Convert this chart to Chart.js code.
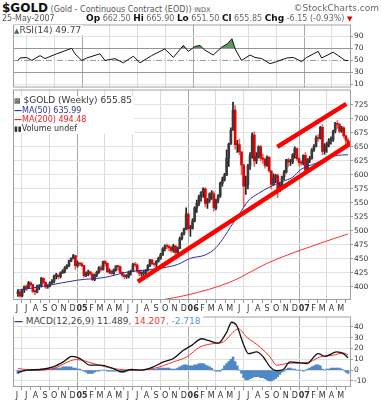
<!DOCTYPE html>
<html>
<head>
<meta charset="utf-8">
<title>$GOLD weekly</title>
<script src="https://cdn.jsdelivr.net/npm/chart.js@4.4.1/dist/chart.umd.min.js"></script>
<style>
  body { margin: 0; background: #fff; font-family: "DejaVu Sans", Verdana, sans-serif; }
  #page { position: relative; width: 382px; height: 400px; overflow: hidden; }
  .pane { position: absolute; left: 0; width: 382px; }
  .txt { position: absolute; white-space: nowrap; z-index: 2; }
  .lbl { background: #fff; padding-right: 2px; }
</style>
</head>
<body>
<div id="page">
  <div class="txt" style="left:2px;top:1px;font-size:8px;color:#555">
    <b style="font-size:12px;color:#111">$GOLD</b> (Gold - Continuous Contract (EOD)) <span style="font-size:6.5px">INDX</span>
  </div>
  <div class="txt" style="right:3px;top:3px;font-size:9px;color:#666">&copy;StockCharts.com</div>
  <div class="txt" style="left:2px;top:14px;font-size:8px;color:#555">25-May-2007</div>
  <div class="txt" style="left:86px;top:13px;font-size:8px;color:#666">
    <b style="font-size:9px;color:#111">Op</b> 662.50 <b style="font-size:9px;color:#111">Hi</b> 665.90 <b style="font-size:9px;color:#111">Lo</b> 651.50 <b style="font-size:9px;color:#111">Cl</b> 655.85 <b style="font-size:9px;color:#111">Chg</b> -6.15 (-0.93%) <span style="color:#d00;font-size:7px">&#9660;</span>
  </div>

  <div class="pane" style="top:19px;height:74px"><canvas id="rsiChart"></canvas></div>
  <div class="pane" style="top:84px;height:232px"><canvas id="priceChart"></canvas></div>
  <div class="pane" style="top:311px;height:89px"><canvas id="macdChart"></canvas></div>

  <div class="txt lbl" style="left:14px;top:25px;font-size:9px;color:#444"><span style="color:#3a7a3a;font-size:7px">&#9650;</span>RSI(14) 49.77</div>
  <div class="txt lbl" style="left:14px;top:96px;font-size:8px;line-height:9px;color:#333">
    <div style="font-size:9px"><span style="font-size:7px">&#9641;</span> $GOLD (Weekly) 655.85</div>
    <div style="color:#33339a"><b>&#8212;</b>MA(50) 635.99</div>
    <div style="color:#ee2222"><b>&#8212;</b>MA(200) 494.48</div>
    <div><span style="font-size:7px">&#9646;&#9646;</span>Volume undef</div>
  </div>
  <div class="txt lbl" style="left:14px;top:316px;font-size:9px;color:#444"><b>&#8212;</b> MACD(12,26,9) 11.489<span style="color:#e33">, 14.207</span><span style="color:#5a9ad0">, -2.718</span></div>
</div>

<script>
// weeks are counted from Fri 4-Jun-2004 (week 0) to Fri 25-May-2007 (week 155)
var weekStart = Date.UTC(2004, 5, 4);
var xMin = -2.3;
var xMax = 156.4;

var monthLabels = ['J', 'J', 'A', 'S', 'O', 'N', 'D', '05', 'F', 'M', 'A', 'M',
    'J', 'J', 'A', 'S', 'O', 'N', 'D', '06', 'F', 'M', 'A', 'M',
    'J', 'J', 'A', 'S', 'O', 'N', 'D', '07', 'F', 'M', 'A', 'M'];
var priceTicks = [400, 425, 450, 475, 500, 525, 550, 575, 600, 625, 650, 675, 700, 725];
var rsiTicks = [10, 30, 50, 70, 90];
var macdTicks = [-10, 0, 10, 20, 30, 40];

// weekly closes, highs, lows
var close = [391, 384, 395, 401, 397, 407, 404, 392, 391, 400, 401, 415, 408, 400, 402, 407, 410, 420, 420, 418, 425, 428, 434, 438, 446, 451, 456, 438, 442, 441, 438,
    420, 423, 427, 423, 413, 421, 426, 434, 431, 445, 442, 427, 428, 424, 430, 437, 436, 426, 421, 418, 418, 426, 427, 440, 439, 428, 424, 424, 425, 429, 438, 448, 441, 440, 446, 451, 457, 468, 473, 472, 470, 465, 473, 461, 469, 486, 495, 503, 530, 504, 505, 518,
    541, 549, 561, 569, 575, 549, 555, 566, 566, 541, 555, 562, 585, 591, 599, 630, 655, 680, 716, 654, 654, 641, 618, 580, 582, 616, 635, 671, 625, 633, 650, 630, 628, 617, 632, 607, 583, 595, 599, 575, 582, 597, 605, 627, 623, 623, 636, 647, 629, 622, 621, 635,
    608, 627, 629, 645, 651, 666, 665, 685, 642, 651, 655, 662, 663, 678, 692, 690, 678, 684, 670, 662, 656];
var high = [395, 393, 396, 402, 404, 410, 409, 405, 395, 403, 404, 417, 416, 409, 404, 409, 413, 421, 424, 423, 427, 431, 436, 440, 448, 452, 458, 456, 446, 443, 444,
    438, 427, 430, 428, 425, 423, 428, 436, 438, 446, 447, 443, 432, 430, 432, 438, 438, 437, 427, 423, 422, 428, 430, 442, 444, 441, 430, 427, 429, 431, 440, 449, 449, 443, 447, 453, 460, 470, 475, 477, 475, 473, 476, 474, 471, 489, 497, 505, 541, 532, 510, 522,
    543, 555, 564, 570, 577, 577, 558, 568, 572, 570, 557, 565, 587, 596, 603, 645, 657, 684, 730, 724, 662, 664, 642, 618, 598, 619, 640, 675, 677, 640, 652, 653, 637, 630, 634, 632, 608, 602, 601, 602, 587, 598, 608, 628, 630, 628, 638, 650, 648, 631, 625, 636,
    640, 629, 633, 647, 654, 670, 672, 687, 690, 656, 658, 665, 668, 680, 694, 697, 692, 687, 686, 671, 666];
var low = [383, 381, 382, 390, 393, 397, 401, 390, 386, 389, 395, 400, 405, 397, 397, 400, 405, 407, 414, 414, 416, 424, 425, 432, 436, 445, 450, 431, 435, 438, 436,
    417, 418, 420, 421, 411, 411, 418, 424, 428, 430, 437, 425, 424, 422, 422, 428, 430, 425, 418, 414, 415, 416, 421, 427, 436, 425, 420, 419, 419, 423, 428, 436, 440, 437, 434, 444, 449, 456, 464, 468, 464, 462, 462, 456, 459, 468, 484, 493, 502, 500, 490, 503,
    516, 533, 545, 553, 560, 543, 540, 551, 556, 535, 538, 550, 560, 580, 589, 599, 615, 655, 680, 646, 640, 636, 600, 543, 565, 575, 610, 630, 615, 620, 630, 625, 621, 612, 615, 605, 575, 581, 586, 560, 570, 580, 591, 603, 615, 617, 620, 630, 626, 616, 617, 618,
    603, 606, 622, 628, 642, 650, 660, 664, 636, 637, 640, 650, 655, 660, 675, 683, 675, 676, 666, 656, 651];
var firstOpen = 388;

var ma50Weeks = [0, 12, 28, 41, 52, 60, 68, 75, 81, 88, 93, 97, 100, 104, 108, 113, 118, 124, 129, 133, 140, 146, 150, 155];
var ma50Values = [394, 401, 412, 417, 427, 430, 434, 440, 451, 457, 470, 490, 508, 530, 553, 567, 578, 588, 596, 610, 621, 632, 635, 636];
var ma200Weeks = [60, 79, 100, 117, 133, 155];
var ma200Values = [372, 385, 409, 442, 466, 494.5];

var lowerTrendWeeks = [56.3, 157.3];
var lowerTrendValues = [409.5, 659];
var upperTrendWeeks = [121.8, 154.2];
var upperTrendValues = [650, 727];

var rsiWeeks = [0, 1, 4, 6.5, 10.4, 12.7, 18.2, 25.3, 26.8, 30, 32.3, 38.5, 40.9, 45.6, 49.5, 54.2, 57.3, 62.8, 69, 73, 77.7, 80, 83.1, 85.5, 87.4, 91.7, 95.7, 98.5, 100.5, 102, 105, 109, 111.3, 114.5, 118.4, 121.5, 126.2, 129.3, 133.2, 135.6, 141, 142.6, 148, 150.4, 153.6, 155];
var rsiValues = [50, 54, 55, 50, 58, 53, 61, 70, 61, 50, 54, 61, 50, 53, 46, 57, 46, 58, 69, 55, 75, 65, 73, 75, 68, 59, 72, 78, 86, 69, 50, 59, 55, 53, 44.6, 48, 54, 55, 48, 55, 65, 54, 63.6, 58, 50, 49.77];

var macdWeeks = [0, 4, 10.4, 16.6, 21.3, 25.3, 29.2, 33.8, 38.5, 44.8, 48.7, 53.4, 58.1, 63.6, 68.3, 73, 77.7, 81.6, 86.3, 89.4, 94.1, 98, 100.4, 102.7, 105.8, 108.2, 112.1, 115.2, 118.4, 121.5, 124.6, 127.7, 132.4, 135.6, 141, 144.2, 149.7, 152.8, 155];
var macdValues = [-2.4, 0, 0.6, 3, 7.6, 12.8, 10.7, 4.6, 4.6, 1.5, -1.5, 0.6, 0, 3, 7.6, 10.7, 18.3, 22.9, 29, 27.5, 25, 35, 44.3, 41.3, 24.5, 15.3, 16.8, 12.2, 3, -0.5, 0.6, 7.6, 6.7, 6.1, 15.3, 12.8, 16.8, 15.3, 11.5];
var signalWeeks = [0, 7.2, 16.6, 27.6, 35.4, 44.8, 54.2, 63.6, 73, 79.2, 85.5, 91.7, 96.4, 101, 103.5, 107.4, 113.7, 118.4, 121.5, 126.2, 132.4, 137.1, 141.8, 148.1, 152.8, 155];
var signalValues = [1.5, 0, 1.5, 9.8, 6.1, 1.5, 0, 1.5, 7.6, 12.2, 21.4, 24.5, 26, 35, 38.3, 30.6, 21.4, 12.2, 4.6, 6.1, 6.7, 7.6, 12.2, 13.8, 15.9, 14.2];
var histValues = [-3, -2, -1, -1,
    0, 0, 0, 0, 0, 1, 0, 1, 0,
    1, 1, 1, 1, 2, 2, 2,
    2, 3, 3, 3, 3, 3, 2, 2, 1, 1,
    0, -1, -2, -3, -3, -3, -2, -1, -1,
    0, 0, 0, -1, -1, -1, -1, -1, -1,
    -2, -2, -2, -1, 0, 0, 0, 0, 0,
    0, 0, 0, 1, 1, 1, 1, 1,
    1, 2, 2, 2, 2, 2, 2, 1, 1,
    1, 2, 3, 4, 5, 5, 4, 4, 4,
    5, 5, 6, 6, 6, 5, 4, 3, 2, 0,
    -1, -1, -1, 1, 4, 6, 8,
    10, 12, 8, 4, 0,
    -3, -7, -9, -9, -8, -7, -6,
    -6, -6, -7, -7, -8, -9, -10,
    -10, -9, -8, -6, -4, -2, -1,
    1, 2, 2, 1, 1, 0, 0, 0, -1,
    0, 1, 2, 3, 4, 5, 5, 4,
    1, 0, 1, 1, 2, 2, 2,
    2, 2, 1, 0, -2, -3];

Chart.defaults.font.family = '"DejaVu Sans", Verdana, sans-serif';
Chart.defaults.animation = false;

function pairs(weeks, values) {
    return weeks.map(function (w, i) { return {x: w, y: values[i]}; });
}

var monthWeeks = monthLabels.map(function (l, i) {
    return (Date.UTC(2004, 5 + i, 1) - weekStart) / 604800000;
});

var boxPlugin = {
    id: 'box',
    afterDraw: function (chart) {
        var a = chart.chartArea, c = chart.ctx;
        c.save();
        c.strokeStyle = '#a0a0a0';
        c.lineWidth = 1;
        c.strokeRect(a.left + 0.5, a.top + 0.5, a.width - 1, a.height - 1);
        c.restore();
    }
};

function monthGrid(ctx) {
    if (ctx.index == null) return 'transparent';
    var m = (ctx.index + 5) % 12;
    if (m === 0) return '#a8a8a8';
    if (m % 3 === 0) return '#dcdcdc';
    return 'transparent';
}

function weekScale(labelHeight) {
    return {
        type: 'linear', min: xMin, max: xMax, offset: false,
        afterBuildTicks: function (s) { s.ticks = monthWeeks.map(function (v) { return {value: v}; }); },
        afterFit: function (s) { s.height = labelHeight; },
        border: {display: false},
        grid: {color: monthGrid, tickColor: '#999', drawTicks: labelHeight > 0, tickLength: 3},
        ticks: {
            display: labelHeight > 0, autoSkip: false, maxRotation: 0, padding: 1, color: '#333',
            font: function (c) {
                var year = c.index != null && monthLabels[c.index] && monthLabels[c.index].length > 1;
                return {size: 8, weight: year ? 'bold' : 'normal'};
            },
            callback: function (v, i) { return monthLabels[i]; }
        }
    };
}

function valueScale(min, max, ticks, gridColor) {
    return {
        position: 'right', min: min, max: max,
        afterBuildTicks: function (s) { s.ticks = ticks.map(function (v) { return {value: v}; }); },
        afterFit: function (s) { s.width = 31; },
        border: {display: false},
        grid: {color: gridColor, tickColor: '#999', tickLength: 2},
        ticks: {padding: 1, color: '#333', font: {size: 7.5}}
    };
}

var commonOptions = function (pad, scales) {
    return {
        responsive: true, maintainAspectRatio: false,
        layout: {padding: pad},
        plugins: {legend: {display: false}, tooltip: {enabled: false}},
        scales: scales
    };
};

// RSI panel
var rsiChart = document.getElementById('rsiChart');
new Chart(rsiChart, {
    type: 'line',
    data: {
        datasets: [{
            data: pairs(rsiWeeks, rsiValues),
            borderColor: '#111',
            borderWidth: 1,
            pointRadius: 0,
            fill: {target: {value: 70}, above: '#5f955f', below: 'rgba(0,0,0,0)'}
        }, {
            data: [{x: xMin, y: 50}, {x: xMax, y: 50}],
            borderColor: '#9a9a9a',
            borderWidth: 1,
            borderDash: [6, 2, 1, 2],
            pointRadius: 0
        }]
    },
    options: commonOptions({left: 13, top: 5, bottom: 5, right: 0}, {
        x: weekScale(0),
        y: valueScale(5.1, 109.6, rsiTicks, function (c) {
            var v = c.tick && c.tick.value;
            if (v === 70 || v === 30) return '#9a9a9a';
            if (v === 50) return 'transparent';
            return '#e2e2e2';
        })
    }),
    plugins: [boxPlugin]
});

// price panel: red when the close is below the previous close
var wicks = [], bodies = [], bodyColors = [], wickColors = [];
for (var i = 0; i < close.length; i++) {
    var open = i === 0 ? firstOpen : close[i - 1];
    var down = close[i] < open;
    wicks.push({x: i, y: [low[i], high[i]]});
    bodies.push({x: i, y: [Math.min(open, close[i]), Math.max(open, close[i])]});
    bodyColors.push(down ? '#e00000' : '#3a3a3a');
    wickColors.push(down ? '#f06060' : '#222');
}

var priceChart = document.getElementById('priceChart');
new Chart(priceChart, {
    type: 'bar',
    data: {
        datasets: [{
            type: 'line',
            data: pairs(upperTrendWeeks, upperTrendValues),
            borderColor: '#ff0000', borderWidth: 4.5, pointRadius: 0, order: 1
        }, {
            type: 'line',
            data: pairs(lowerTrendWeeks, lowerTrendValues),
            borderColor: '#ff0000', borderWidth: 4.5, pointRadius: 0, order: 1
        }, {
            type: 'line',
            data: pairs(ma50Weeks, ma50Values),
            borderColor: '#2e2e96', borderWidth: 1, pointRadius: 0,
            cubicInterpolationMode: 'monotone', order: 2
        }, {
            type: 'line',
            data: pairs(ma200Weeks, ma200Values),
            borderColor: '#ff3030', borderWidth: 1, pointRadius: 0,
            cubicInterpolationMode: 'monotone', order: 3
        }, {
            data: bodies,
            backgroundColor: bodyColors,
            barThickness: 2, grouped: false, minBarLength: 1, order: 4
        }, {
            data: wicks,
            backgroundColor: wickColors,
            barThickness: 1, grouped: false, order: 5
        }]
    },
    options: commonOptions({left: 13, top: 5, bottom: 0, right: 0}, {
        x: weekScale(16),
        y: valueScale(376.5, 752.6, priceTicks, '#e2e2e2')
    }),
    plugins: [boxPlugin]
});

// MACD panel
var histData = histValues.map(function (v, i) { return {x: i, y: v}; });
var macdChart = document.getElementById('macdChart');
new Chart(macdChart, {
    type: 'bar',
    data: {
        datasets: [{
            type: 'line',
            data: pairs(macdWeeks, macdValues),
            borderColor: '#111', borderWidth: 1.3, pointRadius: 0,
            cubicInterpolationMode: 'monotone', order: 1
        }, {
            type: 'line',
            data: pairs(signalWeeks, signalValues),
            borderColor: '#ff2a2a', borderWidth: 1, pointRadius: 0,
            cubicInterpolationMode: 'monotone', order: 2
        }, {
            data: histData,
            backgroundColor: '#4f88c4',
            barThickness: 2, grouped: false, order: 3
        }]
    },
    options: commonOptions({left: 13, top: 5, bottom: 0, right: 0}, {
        x: weekScale(13),
        y: valueScale(-15.6, 49.6, macdTicks, '#e2e2e2')
    }),
    plugins: [boxPlugin]
});
</script>
</body>
</html>
